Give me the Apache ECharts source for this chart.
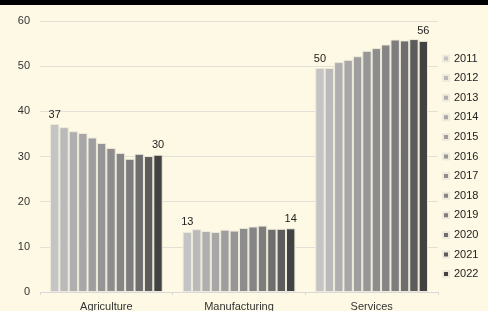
<!DOCTYPE html>
<html>
<head>
<meta charset="utf-8">
<script src="https://cdn.jsdelivr.net/npm/echarts@6/dist/echarts.min.js"></script>
<style>
  html, body { margin: 0; padding: 0; background: #fef9e4; }
  #chart { width: 488px; height: 311px; }
</style>
</head>
<body>
<div id="chart"></div>
<script>
const sectors = ['Agriculture', 'Manufacturing', 'Services'];
const years = ['2011', '2012', '2013', '2014', '2015', '2016', '2017', '2018', '2019', '2020', '2021', '2022'];

// one array per sector, one value per year
const agriculture = [37.2, 36.5, 35.6, 35.2, 34.2, 33.0, 31.9, 30.8, 29.5, 30.6, 30.1, 30.4];
const manufacturing = [13.3, 13.9, 13.5, 13.3, 13.8, 13.6, 14.2, 14.5, 14.7, 14.0, 14.0, 14.1];
const services = [49.6, 49.6, 50.9, 51.4, 52.2, 53.4, 54.0, 54.8, 55.9, 55.7, 56.0, 55.6];

const grays = ['#c4c4c4', '#bababa', '#afafaf', '#a7a7a7', '#9e9e9e', '#969696', '#8d8d8d', '#858585', '#7d7d7d', '#6e6e6e', '#5c5c5c', '#424242'];

const font = 'Liberation Sans, Arial, sans-serif';

const series = years.map(function (y, i) {
  const labelled = i === 0 || i === years.length - 1;
  return {
    name: y,
    type: 'bar',
    data: [agriculture[i], manufacturing[i], services[i]],
    itemStyle: { color: grays[i], borderColor: '#efeadb', borderWidth: 1 },
    label: {
      show: labelled,
      position: 'top',
      distance: 4,
      fontFamily: font,
      fontSize: 11,
      color: '#222',
      formatter: function (p) { return Math.round(p.value); }
    },
    barGap: '0%',
    barCategoryGap: '15%'
  };
});

const myChart = echarts.init(document.getElementById('chart'));
myChart.setOption({
  backgroundColor: '#fef9e4',
  animation: false,
  graphic: [{
    type: 'rect',
    shape: { x: 0, y: 0, width: 488, height: 5 },
    style: { fill: '#000' }
  }],
  grid: { left: 40, right: 50, top: 21, bottom: 19, containLabel: false, outerBoundsMode: 'none' },
  legend: {
    orient: 'vertical',
    left: 437,
    top: 48,
    itemWidth: 6,
    itemHeight: 6,
    itemGap: 8.6,
    icon: 'rect',
    textStyle: { fontFamily: font, fontSize: 11, color: '#222' },
    data: years
  },
  xAxis: {
    type: 'category',
    data: sectors,
    axisLine: { lineStyle: { color: '#d9d9d9' } },
    axisTick: { show: true, length: 3, lineStyle: { color: '#d9d9d9' } },
    axisLabel: { fontFamily: font, fontSize: 11, color: '#333', margin: 9 }
  },
  yAxis: {
    type: 'value',
    min: 0,
    max: 60,
    interval: 10,
    splitLine: { lineStyle: { color: '#e2e0d6' } },
    axisLabel: { fontFamily: font, fontSize: 11, color: '#333', margin: 10 }
  },
  series: series
});
</script>
</body>
</html>
